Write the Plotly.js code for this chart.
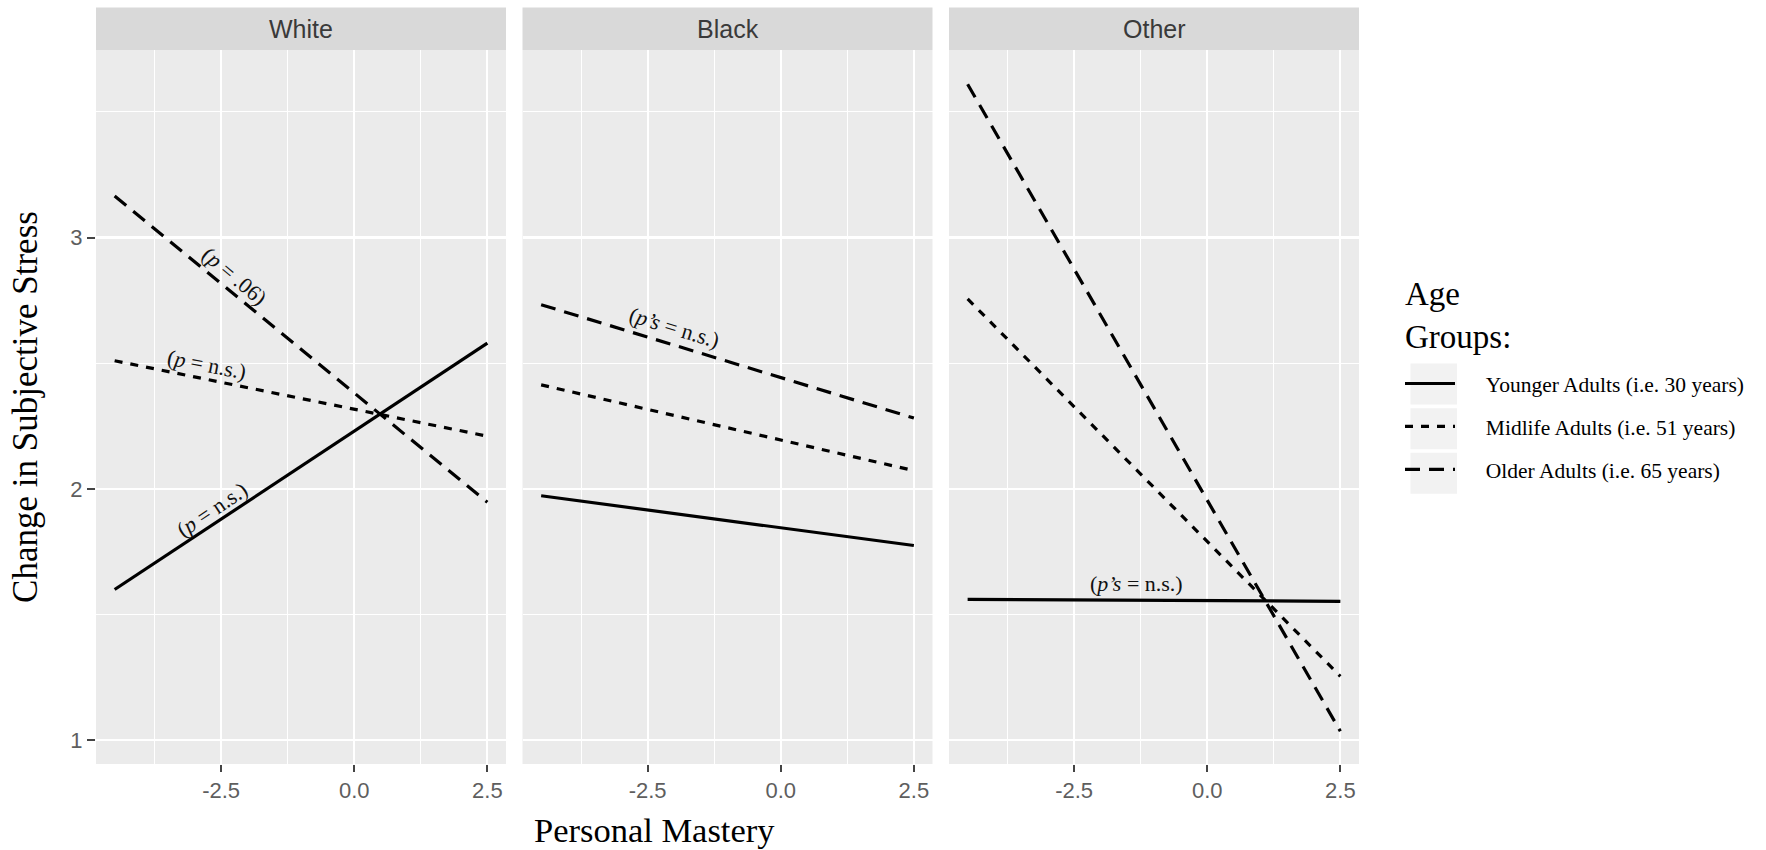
<!DOCTYPE html>
<html>
<head>
<meta charset="utf-8">
<script src="https://cdn.plot.ly/plotly-3.0.1.min.js"></script>
<style>html,body{margin:0;padding:0;background:#fff;}#chart{width:1766px;height:850px;}</style>
</head>
<body>
<div id="chart"></div>
<script>
// ---- data ----
const panels = ["White", "Black", "Other"];
const groups = ["Younger Adults (i.e. 30 years)", "Midlife Adults (i.e. 51 years)", "Older Adults (i.e. 65 years)"];
const legendTitle = "Age<br>Groups:";
const mastery = [-4.5, 2.5];
const whiteYounger = [1.60, 2.58];
const whiteMidlife = [2.51, 2.21];
const whiteOlder = [3.165, 1.947];
const blackYounger = [1.973, 1.775];
const blackMidlife = [2.414, 2.073];
const blackOlder = [2.733, 2.282];
const otherYounger = [1.561, 1.553];
const otherMidlife = [2.756, 1.255];
const otherOlder = [3.61, 1.036];
const xTickVals = [-2.5, 0, 2.5];
const xTickText = ["-2.5", "0.0", "2.5"];
const xMinorVals = [-3.75, -1.25, 1.25];
const yTickVals = [1, 2, 3];
const yTickText = ["1", "2", "3"];
const yMinorVals = [1.5, 2.5, 3.5];
const pLabels = ["(<i>p</i> = .06)", "(<i>p</i> = n.s.)", "(<i>p</i> = n.s.)", "(<i>p’s</i> = n.s.)", "(<i>p’s</i> = n.s.)"];
const pLabelX = [-2.24, -2.77, -2.67, -2.0, -1.33];
const pLabelY = [2.845, 2.497, 1.92, 2.643, 1.625];

const seriesByPanel = [
  [whiteYounger, whiteMidlife, whiteOlder],
  [blackYounger, blackMidlife, blackOlder],
  [otherYounger, otherMidlife, otherOlder]
];
const dashes = ["solid", "8px,8px", "15px,9px"];
const xNames = ["x", "x2", "x3"];

const traces = [];
panels.forEach((p, pi) => {
  groups.forEach((g, gi) => {
    traces.push({
      type: "scatter", mode: "lines",
      x: mastery, y: seriesByPanel[pi][gi],
      xaxis: xNames[pi], yaxis: "y",
      name: "\u2003\u2009" + g, legendgroup: "g" + gi, showlegend: pi === 0,
      line: {color: "#000", width: 3.2, dash: dashes[gi]},
      hoverinfo: "skip"
    });
  });
});

// ---- layout geometry (pixels) ----
const W = 1766, H = 850;
const mL = 96, mR = 407, mT = 50, mB = 86;
const plotW = W - mL - mR, plotH = H - mT - mB;
const px2x = px => (px - mL) / plotW;
const py2y = py => 1 - (py - mT) / plotH;
const panelPx = [[96, 506], [522.5, 932.5], [949, 1359]];

const sans = "Liberation Sans, Arial, sans-serif";
const serif = "Liberation Serif, Times New Roman, serif";

function xAxis(pi) {
  return {
    domain: [px2x(panelPx[pi][0]), px2x(panelPx[pi][1])],
    anchor: "y", range: [-4.85, 2.85],
    tickmode: "array", tickvals: xTickVals, ticktext: xTickText,
    ticks: "outside", ticklen: 7, tickwidth: 2, tickcolor: "#444",
    tickfont: {family: sans, size: 22, color: "#5e5e5e"},
    showgrid: true, gridcolor: "#ffffff", gridwidth: 2.2,
    minor: {tickmode: "array", tickvals: xMinorVals, showgrid: true, gridcolor: "#ffffff", gridwidth: 1.1, ticks: ""},
    zeroline: false, showline: false, automargin: false, fixedrange: true
  };
}

const annotations = [];
const shapes = [];
panels.forEach((p, pi) => {
  shapes.push({type: "rect", xref: xNames[pi] + " domain", yref: "paper",
    x0: 0, x1: 1, y0: py2y(50), y1: py2y(7.5), fillcolor: "#d9d9d9", line: {width: 0}, layer: "below"});
  annotations.push({xref: xNames[pi] + " domain", yref: "paper", x: 0.5, y: py2y(29),
    text: p, showarrow: false, xanchor: "center", yanchor: "middle",
    font: {family: sans, size: 25, color: "#3a3a3a"}});
});

const labelPanel = [0, 0, 0, 1, 2];
const labelAngle = [40, 11, -34, 17, 0];
pLabels.forEach((t, i) => {
  annotations.push({xref: xNames[labelPanel[i]], yref: "y", x: pLabelX[i], y: pLabelY[i],
    text: t, showarrow: false, textangle: labelAngle[i], xanchor: "center", yanchor: "middle",
    font: {family: serif, size: 22, color: "#111"}});
});

annotations.push({xref: "paper", yref: "paper", x: px2x(654), y: py2y(830),
  text: "Personal Mastery", showarrow: false, xanchor: "center", yanchor: "middle",
  font: {family: serif, size: 34.5, color: "#000"}});

// legend title
annotations.push({xref: "paper", yref: "paper", x: px2x(1403), y: py2y(315),
  text: legendTitle, showarrow: false, xanchor: "left", yanchor: "middle", align: "left",
  font: {family: serif, size: 33, color: "#000"}});

// legend key backgrounds
[363.5, 408.3, 452.7].forEach(top => {
  shapes.push({type: "rect", xref: "paper", yref: "paper",
    x0: px2x(1410.5), x1: px2x(1457), y0: py2y(top + 41), y1: py2y(top),
    fillcolor: "#f2f2f2", line: {width: 0}, layer: "below"});
});

const layout = {
  width: W, height: H,
  margin: {l: mL, r: mR, t: mT, b: mB, pad: 0},
  paper_bgcolor: "#ffffff", plot_bgcolor: "#ebebeb",
  xaxis: xAxis(0), xaxis2: xAxis(1), xaxis3: xAxis(2),
  yaxis: {
    domain: [0, 1], anchor: "x", range: [0.906, 3.746],
    tickmode: "array", tickvals: yTickVals, ticktext: yTickText,
    ticks: "outside", ticklen: 8, tickwidth: 2, tickcolor: "#444",
    tickfont: {family: sans, size: 22, color: "#5e5e5e"},
    showgrid: true, gridcolor: "#ffffff", gridwidth: 2.2,
    minor: {tickmode: "array", tickvals: yMinorVals, showgrid: true, gridcolor: "#ffffff", gridwidth: 1.1, ticks: ""},
    zeroline: false, showline: false, automargin: false, fixedrange: true,
    title: {text: "Change in Subjective Stress", standoff: 22, font: {family: serif, size: 35, color: "#000"}}
  },
  showlegend: true,
  legend: {
    x: px2x(1400), y: py2y(363), xanchor: "left", yanchor: "top",
    bgcolor: "rgba(0,0,0,0)", borderwidth: 0,
    font: {family: serif, size: 21.5, color: "#000"},
    tracegroupgap: 12, itemwidth: 50, traceorder: "grouped"
  },
  shapes: shapes,
  annotations: annotations
};

Plotly.newPlot("chart", traces, layout, {displayModeBar: false, staticPlot: true});
</script>
</body>
</html>
